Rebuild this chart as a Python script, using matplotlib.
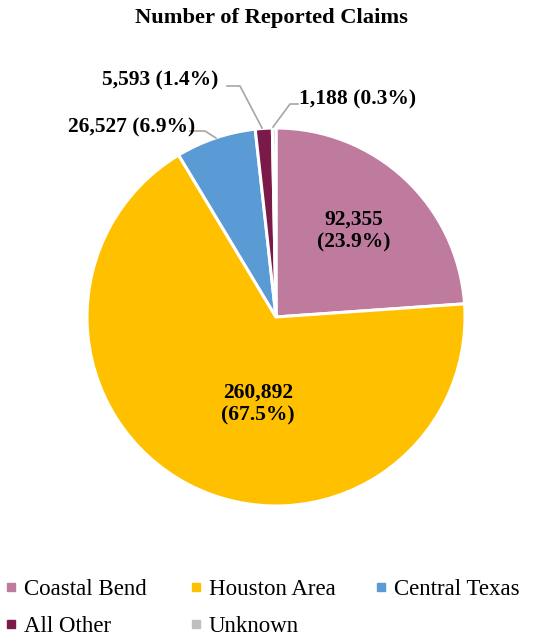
import matplotlib.pyplot as plt

# =========================
# DATA
# =========================
regions = ["Coastal Bend", "Houston Area", "Central Texas", "All Other", "Unknown"]
claims = [92355, 260892, 26527, 5593, 1188]
colors = ["#BF7B9E", "#FFC000", "#5B9BD5", "#7B1A49", "#BFBFBF"]

SERIF = ["Liberation Serif", "DejaVu Serif"]
plt.rcParams["font.family"] = SERIF

W, H = 542, 636
cx, cy, r = 276, 317, 189   # pie centre / radius in pixels
half = 250

fig = plt.figure(figsize=(W / 100, H / 100), dpi=100)
ax = fig.add_axes([(cx - half) / W, (H - cy - half) / H, 2 * half / W, 2 * half / H])

wedges, _ = ax.pie(claims, colors=colors, startangle=90, counterclock=False,
                   radius=1, wedgeprops=dict(edgecolor="white", linewidth=2.2))

# pie() resets the limits, so set them afterwards
lim = half / r
ax.set_xlim(-lim, lim)
ax.set_ylim(-lim, lim)
ax.set_aspect("equal")
ax.axis("off")

total = sum(claims)
labels = [f"{v:,} ({v / total * 100:.1f}%)" for v in claims]


def px(x, y):
    return ((x - cx) / r, (cy - y) / r)


lab_font = dict(fontsize=15.5, fontweight="bold", ha="center", va="center")

# labels inside the two big slices
ax.text(*px(354, 231), labels[0].replace(" ", "\n"), linespacing=1.2, **lab_font)
ax.text(*px(258, 404), labels[1].replace(" ", "\n"), linespacing=1.2, **lab_font)

# outside labels with leader lines (text centre, elbow, tip)
outside = [
    (2, (132, 127), [(190, 131), (205, 131), (216, 138)]),
    (3, (160, 80), [(227, 86), (240, 86), (262, 128)]),
    (4, (358, 99), [(298, 104), (290, 104), (273, 127)]),
]
for i, (tx, ty), pts in outside:
    ax.text(*px(tx, ty), labels[i], **lab_font)
    xs, ys = zip(*[px(x, y) for x, y in pts])
    ax.plot(xs, ys, color="#A6A6A6", lw=1.2)

fig.text(0.5, 1 - 18 / H, "Number of Reported Claims", ha="center", va="center",
         fontsize=16.2, fontweight="bold")

# legend laid out on a fixed grid (3 columns, row-major)
leg = fig.add_axes([0, 0, 1, 1], facecolor="none")
leg.set_xlim(0, W)
leg.set_ylim(H, 0)
leg.axis("off")
col_x = [11, 196, 381]
row_y = [587, 624]
for k, (name, c) in enumerate(zip(regions, colors)):
    x, y = col_x[k % 3], row_y[k // 3]
    leg.plot(x, y, marker="s", ms=6, color=c, ls="none")
    leg.text(x + 13, y, name, fontsize=16.5, va="center_baseline", ha="left")

fig.savefig("out.png", dpi=100)
